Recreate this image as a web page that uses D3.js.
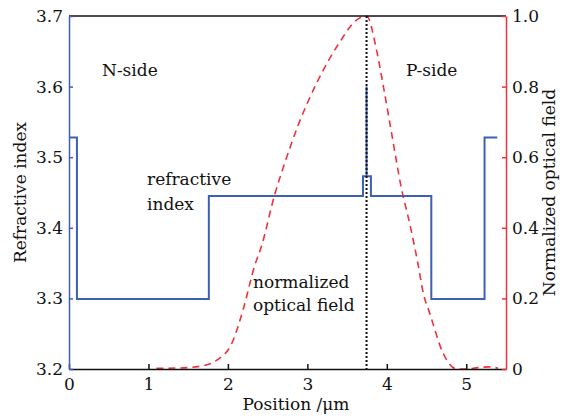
<!DOCTYPE html>
<html>
<head>
<meta charset="utf-8">
<script src="https://cdn.jsdelivr.net/npm/d3@7"></script>
<style>
    body { margin: 0; background: #fff; }
    svg text { font-family: "DejaVu Serif", serif; fill: #111; }
</style>
</head>
<body>
<svg id="chart" width="562" height="418"></svg>
<script>
// refractive index profile (step path), position in um
const profileX = [0, 0.10, 0.10, 1.76, 1.76, 3.70, 3.70, 3.745, 3.745, 3.745, 3.80, 3.80, 4.56, 4.56, 5.23, 5.23, 5.39];
const profileN = [3.528, 3.528, 3.299, 3.299, 3.445, 3.445, 3.473, 3.473, 3.60, 3.473, 3.473, 3.445, 3.445, 3.299, 3.299, 3.528, 3.528];

// normalized optical field
const fieldX = [1.1, 1.4, 1.7, 1.86, 2.05, 2.19, 2.34, 2.42, 2.59, 2.70, 2.885, 3.115, 3.41, 3.6, 3.745, 3.87, 3.95, 4.06, 4.18, 4.3, 4.39, 4.46, 4.54, 4.71, 4.88, 5.0, 5.15, 5.3, 5.4];
const fieldY = [0.002, 0.003, 0.01, 0.025, 0.073, 0.167, 0.295, 0.346, 0.495, 0.573, 0.691, 0.809, 0.927, 0.985, 1.0, 0.904, 0.809, 0.668, 0.516, 0.40, 0.30, 0.214, 0.158, 0.044, 0.0, 0.0, 0.004, 0.006, 0.002];

const junctionX = 3.745;

const xTicks = [0, 1, 2, 3, 4, 5];
const leftTicks = [3.2, 3.3, 3.4, 3.5, 3.6, 3.7];
const rightTicks = [0, 0.2, 0.4, 0.6, 0.8, 1.0];
const rightTickLabels = ["0", "0.2", "0.4", "0.6", "0.8", "1.0"];

const blue = "#3d5fb5";
const red = "#f0323c";

const margin = { top: 16, right: 56, bottom: 49, left: 69 };
const width = 562;
const height = 418;

const svg = d3.select("#chart");

const x = d3.scaleLinear().domain([0, 5.5]).range([margin.left, width - margin.right]);
const yLeft = d3.scaleLinear().domain([3.2, 3.7]).range([height - margin.bottom, margin.top]);
const yRight = d3.scaleLinear().domain([0, 1]).range([height - margin.bottom, margin.top]);

// field curve
const field = fieldX.map(function(v, i) { return [v, fieldY[i]]; });
svg.append("path")
    .attr("d", d3.line()
        .x(function(d) { return x(d[0]); })
        .y(function(d) { return yRight(d[1]); })
        .curve(d3.curveMonotoneX)(field))
    .attr("fill", "none")
    .attr("stroke", red)
    .attr("stroke-width", 1.6)
    .attr("stroke-dasharray", "7,5");

// index profile
const profile = profileX.map(function(v, i) { return [v, profileN[i]]; });
svg.append("path")
    .attr("d", d3.line()
        .x(function(d) { return x(d[0]); })
        .y(function(d) { return yLeft(d[1]); })(profile))
    .attr("fill", "none")
    .attr("stroke", blue)
    .attr("stroke-width", 2);

// junction line
svg.append("line")
    .attr("x1", x(junctionX))
    .attr("x2", x(junctionX))
    .attr("y1", margin.top)
    .attr("y2", height - margin.bottom)
    .attr("stroke", "#111")
    .attr("stroke-width", 2)
    .attr("stroke-dasharray", "2,2");

// top border
svg.append("line")
    .attr("x1", margin.left)
    .attr("x2", width - margin.right)
    .attr("y1", margin.top)
    .attr("y2", margin.top)
    .attr("stroke", "#111")
    .attr("stroke-width", 1.5);

// axes
const bottomAxis = svg.append("g")
    .attr("transform", "translate(0," + (height - margin.bottom) + ")")
    .call(d3.axisBottom(x).tickValues(xTicks).tickFormat(d3.format("d")).tickSizeInner(-5).tickSizeOuter(0).tickPadding(9));

const leftAxis = svg.append("g")
    .attr("transform", "translate(" + margin.left + ",0)")
    .call(d3.axisLeft(yLeft).tickValues(leftTicks).tickFormat(d3.format(".1f")).tickSizeInner(-4).tickSizeOuter(0).tickPadding(6));

const rightAxis = svg.append("g")
    .attr("transform", "translate(" + (width - margin.right) + ",0)")
    .call(d3.axisRight(yRight).tickValues(rightTicks).tickFormat(function(d, i) { return rightTickLabels[i]; }).tickSizeInner(-4).tickSizeOuter(0).tickPadding(6));

styleAxis(bottomAxis, "#111");
styleAxis(leftAxis, blue);
styleAxis(rightAxis, red);

function styleAxis(axis, color) {
    axis.select(".domain").attr("stroke", color).attr("stroke-width", 1.5);
    axis.selectAll(".tick line").attr("stroke", color).attr("stroke-width", 1.5);
    axis.selectAll(".tick text")
        .attr("fill", "#111")
        .style("font-family", "'DejaVu Serif', serif")
        .style("font-size", "17px");
}

// axis titles
svg.append("text")
    .attr("x", 296)
    .attr("y", 410)
    .attr("text-anchor", "middle")
    .attr("font-size", 17)
    .text("Position /μm");

svg.append("text")
    .attr("transform", "translate(26," + (margin.top + height - margin.bottom) / 2 + ") rotate(-90)")
    .attr("text-anchor", "middle")
    .attr("font-size", 17)
    .text("Refractive index");

svg.append("text")
    .attr("transform", "translate(555," + (margin.top + height - margin.bottom) / 2 + ") rotate(-90)")
    .attr("text-anchor", "middle")
    .attr("font-size", 17)
    .text("Normalized optical field");

// annotations
const notes = [
    { text: "N-side", x: 102, y: 76 },
    { text: "P-side", x: 406, y: 76 },
    { text: "refractive", x: 147, y: 185 },
    { text: "index", x: 147, y: 210 },
    { text: "normalized", x: 253, y: 288 },
    { text: "optical field", x: 253, y: 311 }
];

svg.selectAll(".note")
    .data(notes)
    .enter()
    .append("text")
    .attr("class", "note")
    .attr("x", function(d) { return d.x; })
    .attr("y", function(d) { return d.y; })
    .attr("font-size", 17)
    .text(function(d) { return d.text; });
</script>
</body>
</html>
